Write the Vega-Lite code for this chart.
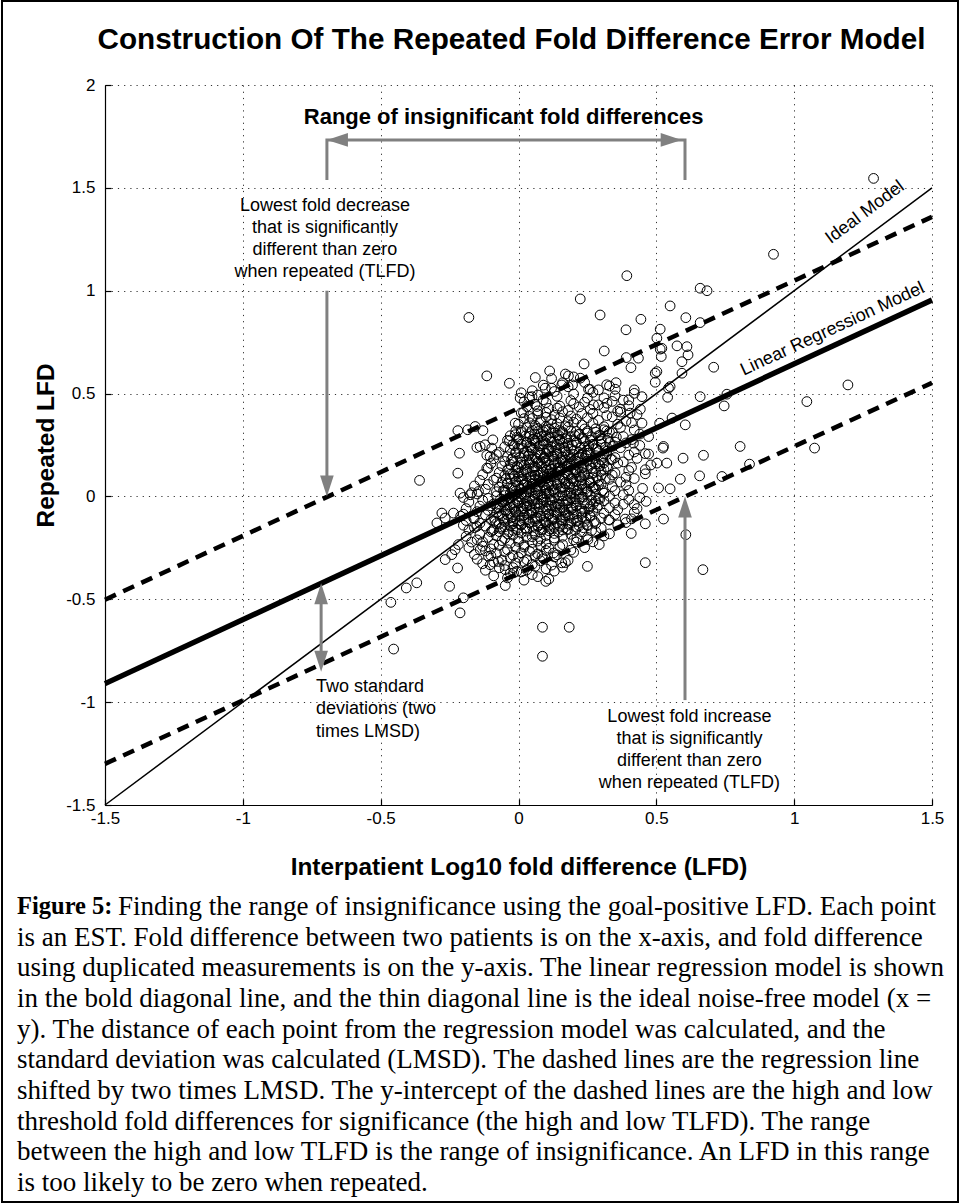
{
  "$schema": "https://vega.github.io/schema/vega-lite/v6.json",
  "background": "white",
  "autosize": {"type": "none"},
  "width": 827,
  "height": 720,
  "padding": {"left": 105, "top": 85, "right": 28, "bottom": 399},
  "config": {
    "view": {"stroke": null},
    "font": "Liberation Sans",
    "axis": {
      "domainColor": "black", "domainWidth": 1.2,
      "tickColor": "black", "tickSize": -6, "tickWidth": 1.2,
      "labelColor": "black", "labelFont": "Liberation Sans", "labelFontSize": 17,
      "labelFlush": false, "labelOverlap": false,
      "titleColor": "black", "titleFont": "Liberation Sans", "titleFontSize": 24.4, "titleFontWeight": "bold",
      "grid": true, "gridColor": "black", "gridDash": [1.2, 5], "gridOpacity": 0.8, "gridWidth": 1
    }
  },
  "title": {"text": "Construction Of The Repeated Fold Difference Error Model", "font": "Liberation Sans", "fontSize": 29.7, "fontWeight": "bold", "color": "black", "anchor": "middle", "offset": 20, "dx": -7, "dy": 76.5},
  "datasets": {
    "pts": [
      {"x":1.288,"y":1.546},{"x":0.925,"y":1.177},{"x":0.393,"y":1.073},{"x":0.659,"y":1.012},{"x":0.684,"y":1.0},{"x":0.224,"y":0.96},{"x":0.55,"y":0.926},{"x":0.296,"y":0.882},{"x":0.444,"y":0.861},{"x":0.607,"y":0.869},{"x":-0.18,"y":0.87},{"x":0.39,"y":0.81},{"x":0.659,"y":0.845},{"x":0.514,"y":0.813},{"x":0.502,"y":0.769},{"x":0.52,"y":0.72},{"x":0.575,"y":0.732},{"x":0.611,"y":0.728},{"x":0.311,"y":0.707},{"x":0.391,"y":0.675},{"x":0.435,"y":0.672},{"x":0.514,"y":0.716},{"x":0.518,"y":0.68},{"x":0.615,"y":0.688},{"x":0.593,"y":0.655},{"x":0.708,"y":0.628},{"x":0.238,"y":0.644},{"x":0.408,"y":0.626},{"x":0.502,"y":0.607},{"x":0.496,"y":0.599},{"x":0.593,"y":0.599},{"x":0.181,"y":0.586},{"x":0.224,"y":0.575},{"x":-0.115,"y":0.586},{"x":0.354,"y":0.553},{"x":0.496,"y":0.555},{"x":0.55,"y":0.534},{"x":0.196,"y":0.542},{"x":-0.033,"y":0.55},{"x":0.061,"y":0.578},{"x":0.113,"y":0.61},{"x":0.29,"y":0.518},{"x":0.254,"y":0.521},{"x":0.351,"y":0.521},{"x":0.42,"y":0.518},{"x":0.544,"y":0.526},{"x":1.195,"y":0.542},{"x":0.541,"y":0.482},{"x":0.659,"y":0.485},{"x":0.756,"y":0.497},{"x":0.448,"y":0.485},{"x":0.4,"y":0.469},{"x":0.321,"y":0.453},{"x":0.272,"y":0.445},{"x":1.046,"y":0.461},{"x":0.746,"y":0.44},{"x":0.369,"y":0.424},{"x":0.442,"y":0.424},{"x":0.405,"y":0.405},{"x":0.557,"y":0.381},{"x":0.605,"y":0.348},{"x":0.448,"y":0.356},{"x":0.512,"y":0.356},{"x":0.804,"y":0.243},{"x":0.526,"y":0.243},{"x":0.417,"y":0.259},{"x":0.472,"y":0.291},{"x":0.524,"y":0.235},{"x":1.074,"y":0.235},{"x":0.671,"y":0.2},{"x":0.597,"y":0.186},{"x":0.838,"y":0.157},{"x":0.472,"y":0.206},{"x":0.502,"y":0.162},{"x":0.538,"y":0.162},{"x":0.46,"y":0.13},{"x":0.738,"y":0.097},{"x":0.657,"y":0.1},{"x":0.587,"y":0.084},{"x":0.55,"y":0.037},{"x":0.508,"y":0.041},{"x":0.463,"y":-0.024},{"x":0.42,"y":-0.04},{"x":0.526,"y":-0.11},{"x":0.46,"y":-0.133},{"x":0.409,"y":-0.18},{"x":0.387,"y":-0.11},{"x":0.607,"y":-0.186},{"x":0.669,"y":-0.356},{"x":0.46,"y":-0.322},{"x":0.25,"y":-0.34},{"x":0.157,"y":-0.323},{"x":0.293,"y":-0.234},{"x":0.252,"y":-0.21},{"x":0.327,"y":-0.113},{"x":0.212,"y":-0.202},{"x":0.087,"y":-0.636},{"x":0.184,"y":-0.636},{"x":0.087,"y":-0.777},{"x":0.099,"y":-0.413},{"x":-0.048,"y":-0.433},{"x":-0.018,"y":-0.372},{"x":0.085,"y":-0.291},{"x":0.127,"y":-0.275},{"x":-0.22,"y":0.32},{"x":-0.184,"y":0.324},{"x":-0.157,"y":0.34},{"x":-0.129,"y":0.32},{"x":-0.214,"y":0.21},{"x":-0.151,"y":0.238},{"x":-0.121,"y":0.251},{"x":-0.093,"y":0.275},{"x":-0.097,"y":0.235},{"x":-0.115,"y":0.2},{"x":-0.033,"y":0.27},{"x":-0.012,"y":0.356},{"x":0.018,"y":0.408},{"x":0.067,"y":0.437},{"x":-0.012,"y":0.3},{"x":0.006,"y":0.478},{"x":0.049,"y":0.485},{"x":0.097,"y":0.526},{"x":0.157,"y":0.542},{"x":-0.359,"y":0.078},{"x":-0.22,"y":0.113},{"x":-0.212,"y":0.016},{"x":-0.175,"y":0.008},{"x":-0.145,"y":0.024},{"x":-0.139,"y":0.243},{"x":-0.103,"y":0.194},{"x":-0.115,"y":0.138},{"x":-0.278,"y":-0.081},{"x":-0.266,"y":-0.105},{"x":-0.236,"y":-0.081},{"x":-0.296,"y":-0.129},{"x":-0.163,"y":-0.105},{"x":-0.151,"y":-0.146},{"x":-0.218,"y":-0.234},{"x":-0.23,"y":-0.259},{"x":-0.242,"y":-0.283},{"x":-0.266,"y":-0.307},{"x":-0.221,"y":-0.348},{"x":-0.25,"y":-0.437},{"x":-0.369,"y":-0.42},{"x":-0.407,"y":-0.445},{"x":-0.463,"y":-0.515},{"x":-0.212,"y":-0.566},{"x":-0.2,"y":-0.493},{"x":-0.453,"y":-0.742},{"x":-0.139,"y":-0.259},{"x":-0.109,"y":-0.291},{"x":-0.103,"y":-0.332},{"x":-0.073,"y":-0.316},{"x":-0.048,"y":-0.356},{"x":-0.006,"y":-0.364},
      {"x":-0.04,"y":-0.396},{"x":0.02,"y":-0.407},{"x":0.07,"y":-0.39},{"x":0.11,"y":-0.402},
      {"x":-0.09,"y":-0.386},{"x":-0.03,"y":-0.374},{"x":0.01,"y":-0.367},{"x":0.05,"y":-0.38},{"x":0.13,"y":-0.363},
      {"x":-0.12,"y":-0.359},{"x":-0.07,"y":-0.347},{"x":-0.02,"y":-0.346},{"x":0.03,"y":-0.357},{"x":0.06,"y":-0.34},{"x":0.1,"y":-0.352},{"x":0.16,"y":-0.344},
      {"x":-0.13,"y":-0.327},{"x":-0.09,"y":-0.319},{"x":-0.05,"y":-0.336},{"x":-0.01,"y":-0.324},{"x":0.02,"y":-0.317},{"x":0.05,"y":-0.33},{"x":0.08,"y":-0.313},{"x":0.12,"y":-0.334},{"x":0.17,"y":-0.322},
      {"x":-0.15,"y":-0.305},{"x":-0.1,"y":-0.288},{"x":-0.06,"y":-0.309},{"x":-0.03,"y":-0.297},{"x":0,"y":-0.296},{"x":0.03,"y":-0.307},{"x":0.06,"y":-0.29},{"x":0.09,"y":-0.302},{"x":0.13,"y":-0.294},{"x":0.18,"y":-0.311},
      {"x":-0.16,"y":-0.282},{"x":-0.12,"y":-0.265},{"x":-0.08,"y":-0.277},{"x":-0.05,"y":-0.269},{"x":-0.02,"y":-0.286},{"x":0.01,"y":-0.274},{"x":0.04,"y":-0.267},{"x":0.07,"y":-0.28},{"x":0.1,"y":-0.263},{"x":0.14,"y":-0.284},{"x":0.2,"y":-0.272},
      {"x":-0.18,"y":-0.249},{"x":-0.13,"y":-0.242},{"x":-0.1,"y":-0.255},{"x":-0.07,"y":-0.238},{"x":-0.04,"y":-0.259},{"x":-0.01,"y":-0.247},{"x":0.02,"y":-0.246},{"x":0.05,"y":-0.257},{"x":0.08,"y":-0.24},{"x":0.11,"y":-0.252},{"x":0.15,"y":-0.244},{"x":0.19,"y":-0.261},{"x":0.24,"y":-0.249},
      {"x":-0.17,"y":-0.222},{"x":-0.13,"y":-0.221},{"x":-0.09,"y":-0.232},{"x":-0.06,"y":-0.215},{"x":-0.03,"y":-0.227},{"x":0,"y":-0.219},{"x":0.02,"y":-0.236},{"x":0.05,"y":-0.224},{"x":0.07,"y":-0.217},{"x":0.1,"y":-0.23},{"x":0.13,"y":-0.213},{"x":0.16,"y":-0.234},{"x":0.21,"y":-0.222},{"x":0.27,"y":-0.221},
      {"x":-0.19,"y":-0.194},{"x":-0.15,"y":-0.211},{"x":-0.11,"y":-0.199},{"x":-0.08,"y":-0.192},{"x":-0.05,"y":-0.205},{"x":-0.02,"y":-0.188},{"x":0,"y":-0.209},{"x":0.03,"y":-0.197},{"x":0.05,"y":-0.196},{"x":0.08,"y":-0.207},{"x":0.1,"y":-0.19},{"x":0.13,"y":-0.202},{"x":0.16,"y":-0.194},{"x":0.2,"y":-0.211},{"x":0.25,"y":-0.199},{"x":0.31,"y":-0.192},
      {"x":-0.18,"y":-0.163},{"x":-0.14,"y":-0.184},{"x":-0.1,"y":-0.172},{"x":-0.07,"y":-0.171},{"x":-0.04,"y":-0.182},{"x":-0.02,"y":-0.165},{"x":0.01,"y":-0.177},{"x":0.03,"y":-0.169},{"x":0.06,"y":-0.186},{"x":0.08,"y":-0.174},{"x":0.11,"y":-0.167},{"x":0.13,"y":-0.18},{"x":0.16,"y":-0.163},{"x":0.19,"y":-0.184},{"x":0.23,"y":-0.172},{"x":0.28,"y":-0.171},{"x":0.33,"y":-0.182},
      {"x":-0.2,"y":-0.14},{"x":-0.16,"y":-0.152},{"x":-0.12,"y":-0.144},{"x":-0.09,"y":-0.161},{"x":-0.06,"y":-0.149},{"x":-0.03,"y":-0.142},{"x":-0.01,"y":-0.155},{"x":0.01,"y":-0.138},{"x":0.03,"y":-0.159},{"x":0.05,"y":-0.147},{"x":0.07,"y":-0.146},{"x":0.09,"y":-0.157},{"x":0.11,"y":-0.14},{"x":0.13,"y":-0.152},{"x":0.15,"y":-0.144},{"x":0.18,"y":-0.161},{"x":0.21,"y":-0.149},{"x":0.25,"y":-0.142},{"x":0.3,"y":-0.155},{"x":0.36,"y":-0.138},
      {"x":-0.19,"y":-0.117},{"x":-0.14,"y":-0.13},{"x":-0.1,"y":-0.113},{"x":-0.07,"y":-0.134},{"x":-0.05,"y":-0.122},{"x":-0.02,"y":-0.121},{"x":0,"y":-0.132},{"x":0.02,"y":-0.115},{"x":0.04,"y":-0.127},{"x":0.06,"y":-0.119},{"x":0.08,"y":-0.136},{"x":0.1,"y":-0.124},{"x":0.12,"y":-0.117},{"x":0.14,"y":-0.13},{"x":0.16,"y":-0.113},{"x":0.18,"y":-0.134},{"x":0.21,"y":-0.122},{"x":0.24,"y":-0.121},{"x":0.28,"y":-0.132},{"x":0.33,"y":-0.115},{"x":0.39,"y":-0.127},
      {"x":-0.21,"y":-0.096},{"x":-0.16,"y":-0.107},{"x":-0.12,"y":-0.09},{"x":-0.09,"y":-0.102},{"x":-0.06,"y":-0.094},{"x":-0.04,"y":-0.111},{"x":-0.02,"y":-0.099},{"x":0,"y":-0.092},{"x":0.02,"y":-0.105},{"x":0.04,"y":-0.088},{"x":0.06,"y":-0.109},{"x":0.08,"y":-0.097},{"x":0.1,"y":-0.096},{"x":0.12,"y":-0.107},{"x":0.14,"y":-0.09},{"x":0.16,"y":-0.102},{"x":0.18,"y":-0.094},{"x":0.2,"y":-0.111},{"x":0.23,"y":-0.099},{"x":0.26,"y":-0.092},{"x":0.3,"y":-0.105},{"x":0.35,"y":-0.088},{"x":0.41,"y":-0.109},
      {"x":-0.2,"y":-0.086},{"x":-0.15,"y":-0.074},{"x":-0.11,"y":-0.067},{"x":-0.08,"y":-0.08},{"x":-0.05,"y":-0.063},{"x":-0.03,"y":-0.084},{"x":-0.01,"y":-0.072},{"x":0.01,"y":-0.071},{"x":0.03,"y":-0.082},{"x":0.05,"y":-0.065},{"x":0.07,"y":-0.077},{"x":0.09,"y":-0.069},{"x":0.11,"y":-0.086},{"x":0.13,"y":-0.074},{"x":0.15,"y":-0.067},{"x":0.17,"y":-0.08},{"x":0.19,"y":-0.063},{"x":0.21,"y":-0.084},{"x":0.24,"y":-0.072},{"x":0.27,"y":-0.071},{"x":0.31,"y":-0.082},{"x":0.36,"y":-0.065},{"x":0.42,"y":-0.077},
      {"x":-0.19,"y":-0.059},{"x":-0.14,"y":-0.047},{"x":-0.1,"y":-0.046},{"x":-0.07,"y":-0.057},{"x":-0.05,"y":-0.04},{"x":-0.03,"y":-0.052},{"x":-0.01,"y":-0.044},{"x":0.01,"y":-0.061},{"x":0.03,"y":-0.049},{"x":0.04,"y":-0.042},{"x":0.06,"y":-0.055},{"x":0.08,"y":-0.038},{"x":0.1,"y":-0.059},{"x":0.11,"y":-0.047},{"x":0.13,"y":-0.046},{"x":0.15,"y":-0.057},{"x":0.17,"y":-0.04},{"x":0.19,"y":-0.052},{"x":0.21,"y":-0.044},{"x":0.23,"y":-0.061},{"x":0.26,"y":-0.049},{"x":0.29,"y":-0.042},{"x":0.33,"y":-0.055},{"x":0.38,"y":-0.038},{"x":0.43,"y":-0.059},
      {"x":-0.18,"y":-0.027},{"x":-0.13,"y":-0.019},{"x":-0.09,"y":-0.036},{"x":-0.06,"y":-0.024},{"x":-0.04,"y":-0.017},{"x":-0.02,"y":-0.03},{"x":0,"y":-0.013},{"x":0.02,"y":-0.034},{"x":0.03,"y":-0.022},{"x":0.05,"y":-0.021},{"x":0.07,"y":-0.032},{"x":0.09,"y":-0.015},{"x":0.1,"y":-0.027},{"x":0.12,"y":-0.019},{"x":0.14,"y":-0.036},{"x":0.16,"y":-0.024},{"x":0.18,"y":-0.017},{"x":0.2,"y":-0.03},{"x":0.22,"y":-0.013},{"x":0.25,"y":-0.034},{"x":0.28,"y":-0.022},{"x":0.31,"y":-0.021},{"x":0.35,"y":-0.032},{"x":0.4,"y":-0.015},
      {"x":-0.2,"y":-0.005},{"x":-0.15,"y":0.012},{"x":-0.11,"y":-0.009},{"x":-0.08,"y":0.003},{"x":-0.05,"y":0.004},{"x":-0.03,"y":-0.007},{"x":-0.01,"y":0.01},{"x":0.01,"y":-0.002},{"x":0.02,"y":0.006},{"x":0.04,"y":-0.011},{"x":0.06,"y":0.001},{"x":0.08,"y":0.008},{"x":0.09,"y":-0.005},{"x":0.11,"y":0.012},{"x":0.13,"y":-0.009},{"x":0.15,"y":0.003},{"x":0.17,"y":0.004},{"x":0.19,"y":-0.007},{"x":0.21,"y":0.01},{"x":0.23,"y":-0.002},{"x":0.26,"y":0.006},{"x":0.29,"y":-0.011},{"x":0.33,"y":0.001},{"x":0.38,"y":0.008},{"x":0.44,"y":-0.005},
      {"x":-0.17,"y":0.018},{"x":-0.12,"y":0.035},{"x":-0.08,"y":0.023},{"x":-0.05,"y":0.031},{"x":-0.03,"y":0.014},{"x":-0.01,"y":0.026},{"x":0.01,"y":0.033},{"x":0.03,"y":0.02},{"x":0.04,"y":0.037},{"x":0.06,"y":0.016},{"x":0.08,"y":0.028},{"x":0.1,"y":0.029},{"x":0.11,"y":0.018},{"x":0.13,"y":0.035},{"x":0.15,"y":0.023},{"x":0.17,"y":0.031},{"x":0.19,"y":0.014},{"x":0.21,"y":0.026},{"x":0.23,"y":0.033},{"x":0.25,"y":0.02},{"x":0.28,"y":0.037},{"x":0.31,"y":0.016},{"x":0.35,"y":0.028},{"x":0.4,"y":0.029},
      {"x":-0.16,"y":0.051},{"x":-0.11,"y":0.058},{"x":-0.07,"y":0.045},{"x":-0.04,"y":0.062},{"x":-0.02,"y":0.041},{"x":0,"y":0.053},{"x":0.02,"y":0.054},{"x":0.04,"y":0.043},{"x":0.05,"y":0.06},{"x":0.07,"y":0.048},{"x":0.09,"y":0.056},{"x":0.1,"y":0.039},{"x":0.12,"y":0.051},{"x":0.14,"y":0.058},{"x":0.16,"y":0.045},{"x":0.18,"y":0.062},{"x":0.2,"y":0.041},{"x":0.22,"y":0.053},{"x":0.24,"y":0.054},{"x":0.27,"y":0.043},{"x":0.3,"y":0.06},{"x":0.34,"y":0.048},{"x":0.39,"y":0.056},{"x":0.45,"y":0.039},
      {"x":-0.14,"y":0.078},{"x":-0.09,"y":0.079},{"x":-0.06,"y":0.068},{"x":-0.03,"y":0.085},{"x":-0.01,"y":0.073},{"x":0.01,"y":0.081},{"x":0.03,"y":0.064},{"x":0.05,"y":0.076},{"x":0.06,"y":0.083},{"x":0.08,"y":0.07},{"x":0.1,"y":0.087},{"x":0.11,"y":0.066},{"x":0.13,"y":0.078},{"x":0.15,"y":0.079},{"x":0.17,"y":0.068},{"x":0.19,"y":0.085},{"x":0.21,"y":0.073},{"x":0.23,"y":0.081},{"x":0.26,"y":0.064},{"x":0.29,"y":0.076},{"x":0.33,"y":0.083},{"x":0.37,"y":0.07},{"x":0.42,"y":0.087},
      {"x":-0.13,"y":0.106},{"x":-0.08,"y":0.089},{"x":-0.05,"y":0.101},{"x":-0.02,"y":0.108},{"x":0,"y":0.095},{"x":0.02,"y":0.112},{"x":0.04,"y":0.091},{"x":0.06,"y":0.103},{"x":0.07,"y":0.104},{"x":0.09,"y":0.093},{"x":0.11,"y":0.11},{"x":0.12,"y":0.098},{"x":0.14,"y":0.106},{"x":0.16,"y":0.089},{"x":0.18,"y":0.101},{"x":0.2,"y":0.108},{"x":0.22,"y":0.095},{"x":0.24,"y":0.112},{"x":0.27,"y":0.091},{"x":0.3,"y":0.103},{"x":0.34,"y":0.104},{"x":0.39,"y":0.093},{"x":0.46,"y":0.11},
      {"x":-0.11,"y":0.137},{"x":-0.07,"y":0.116},{"x":-0.04,"y":0.128},{"x":-0.01,"y":0.129},{"x":0.01,"y":0.118},{"x":0.03,"y":0.135},{"x":0.05,"y":0.123},{"x":0.07,"y":0.131},{"x":0.08,"y":0.114},{"x":0.1,"y":0.126},{"x":0.12,"y":0.133},{"x":0.14,"y":0.12},{"x":0.15,"y":0.137},{"x":0.17,"y":0.116},{"x":0.19,"y":0.128},{"x":0.21,"y":0.129},{"x":0.23,"y":0.118},{"x":0.25,"y":0.135},{"x":0.28,"y":0.123},{"x":0.31,"y":0.131},{"x":0.35,"y":0.114},{"x":0.4,"y":0.126},
      {"x":-0.1,"y":0.16},{"x":-0.06,"y":0.148},{"x":-0.03,"y":0.156},{"x":0,"y":0.139},{"x":0.02,"y":0.151},{"x":0.04,"y":0.158},{"x":0.06,"y":0.145},{"x":0.08,"y":0.162},{"x":0.1,"y":0.141},{"x":0.11,"y":0.153},{"x":0.13,"y":0.154},{"x":0.15,"y":0.143},{"x":0.17,"y":0.16},{"x":0.19,"y":0.148},{"x":0.21,"y":0.156},{"x":0.23,"y":0.139},{"x":0.26,"y":0.151},{"x":0.29,"y":0.158},{"x":0.32,"y":0.145},{"x":0.36,"y":0.162},{"x":0.41,"y":0.141},{"x":0.48,"y":0.153},
      {"x":-0.09,"y":0.183},{"x":-0.05,"y":0.17},{"x":-0.02,"y":0.187},{"x":0.01,"y":0.166},{"x":0.03,"y":0.178},{"x":0.05,"y":0.179},{"x":0.07,"y":0.168},{"x":0.09,"y":0.185},{"x":0.11,"y":0.173},{"x":0.13,"y":0.181},{"x":0.15,"y":0.164},{"x":0.17,"y":0.176},{"x":0.19,"y":0.183},{"x":0.21,"y":0.17},{"x":0.24,"y":0.187},{"x":0.27,"y":0.166},{"x":0.3,"y":0.178},{"x":0.34,"y":0.179},{"x":0.38,"y":0.168},{"x":0.43,"y":0.185},
      {"x":-0.08,"y":0.204},{"x":-0.04,"y":0.193},{"x":-0.01,"y":0.21},{"x":0.02,"y":0.198},{"x":0.04,"y":0.206},{"x":0.06,"y":0.189},{"x":0.08,"y":0.201},{"x":0.1,"y":0.208},{"x":0.12,"y":0.195},{"x":0.14,"y":0.212},{"x":0.16,"y":0.191},{"x":0.18,"y":0.203},{"x":0.2,"y":0.204},{"x":0.22,"y":0.193},{"x":0.25,"y":0.21},{"x":0.28,"y":0.198},{"x":0.31,"y":0.206},{"x":0.35,"y":0.189},{"x":0.4,"y":0.201},{"x":0.46,"y":0.208},
      {"x":-0.07,"y":0.214},{"x":-0.03,"y":0.226},{"x":0,"y":0.233},{"x":0.03,"y":0.22},{"x":0.05,"y":0.237},{"x":0.07,"y":0.216},{"x":0.09,"y":0.228},{"x":0.11,"y":0.229},{"x":0.13,"y":0.218},{"x":0.15,"y":0.235},{"x":0.17,"y":0.223},{"x":0.19,"y":0.231},{"x":0.22,"y":0.214},{"x":0.25,"y":0.226},{"x":0.28,"y":0.233},{"x":0.32,"y":0.22},{"x":0.37,"y":0.237},{"x":0.42,"y":0.216},
      {"x":-0.05,"y":0.241},{"x":-0.02,"y":0.253},{"x":0.01,"y":0.254},{"x":0.04,"y":0.243},{"x":0.06,"y":0.26},{"x":0.08,"y":0.248},{"x":0.1,"y":0.256},{"x":0.12,"y":0.239},{"x":0.14,"y":0.251},{"x":0.16,"y":0.258},{"x":0.18,"y":0.245},{"x":0.21,"y":0.262},{"x":0.24,"y":0.241},{"x":0.27,"y":0.253},{"x":0.3,"y":0.254},{"x":0.34,"y":0.243},{"x":0.39,"y":0.26},{"x":0.44,"y":0.248},
      {"x":-0.04,"y":0.273},{"x":0,"y":0.281},{"x":0.03,"y":0.264},{"x":0.05,"y":0.276},{"x":0.07,"y":0.283},{"x":0.09,"y":0.27},{"x":0.11,"y":0.287},{"x":0.13,"y":0.266},{"x":0.15,"y":0.278},{"x":0.17,"y":0.279},{"x":0.2,"y":0.268},{"x":0.23,"y":0.285},{"x":0.26,"y":0.273},{"x":0.3,"y":0.281},{"x":0.35,"y":0.264},{"x":0.41,"y":0.276},
      {"x":-0.03,"y":0.295},{"x":0.01,"y":0.312},{"x":0.04,"y":0.291},{"x":0.06,"y":0.303},{"x":0.08,"y":0.304},{"x":0.1,"y":0.293},{"x":0.12,"y":0.31},{"x":0.14,"y":0.298},{"x":0.16,"y":0.306},{"x":0.19,"y":0.289},{"x":0.22,"y":0.301},{"x":0.25,"y":0.308},{"x":0.29,"y":0.295},{"x":0.33,"y":0.312},{"x":0.38,"y":0.291},{"x":0.44,"y":0.303},
      {"x":-0.01,"y":0.318},{"x":0.03,"y":0.335},{"x":0.05,"y":0.323},{"x":0.07,"y":0.331},{"x":0.09,"y":0.314},{"x":0.11,"y":0.326},{"x":0.13,"y":0.333},{"x":0.15,"y":0.32},{"x":0.18,"y":0.337},{"x":0.21,"y":0.316},{"x":0.24,"y":0.328},{"x":0.28,"y":0.329},{"x":0.32,"y":0.318},{"x":0.37,"y":0.335},{"x":0.42,"y":0.323},
      {"x":0,"y":0.351},{"x":0.04,"y":0.358},{"x":0.06,"y":0.345},{"x":0.08,"y":0.362},{"x":0.1,"y":0.341},{"x":0.12,"y":0.353},{"x":0.14,"y":0.354},{"x":0.17,"y":0.343},{"x":0.2,"y":0.36},{"x":0.23,"y":0.348},{"x":0.27,"y":0.356},{"x":0.31,"y":0.339},{"x":0.36,"y":0.351},{"x":0.41,"y":0.358},
      {"x":0.02,"y":0.378},{"x":0.05,"y":0.379},{"x":0.08,"y":0.368},{"x":0.1,"y":0.385},{"x":0.12,"y":0.373},{"x":0.15,"y":0.381},{"x":0.18,"y":0.364},{"x":0.21,"y":0.376},{"x":0.25,"y":0.383},{"x":0.29,"y":0.37},{"x":0.34,"y":0.387},{"x":0.39,"y":0.366},
      {"x":0.01,"y":0.406},{"x":0.04,"y":0.389},{"x":0.07,"y":0.401},{"x":0.1,"y":0.408},{"x":0.13,"y":0.395},{"x":0.16,"y":0.412},{"x":0.19,"y":0.391},{"x":0.23,"y":0.403},{"x":0.27,"y":0.404},{"x":0.32,"y":0.393},{"x":0.37,"y":0.41},{"x":0.43,"y":0.398},
      {"x":0.03,"y":0.437},{"x":0.07,"y":0.416},{"x":0.11,"y":0.428},{"x":0.14,"y":0.429},{"x":0.18,"y":0.418},{"x":0.22,"y":0.435},{"x":0.26,"y":0.423},{"x":0.31,"y":0.431},{"x":0.36,"y":0.414},
      {"x":0.02,"y":0.46},{"x":0.06,"y":0.448},{"x":0.1,"y":0.456},{"x":0.15,"y":0.439},{"x":0.2,"y":0.451},{"x":0.24,"y":0.458},{"x":0.29,"y":0.445},{"x":0.34,"y":0.462},{"x":0.4,"y":0.441},
      {"x":0.04,"y":0.483},{"x":0.09,"y":0.47},{"x":0.14,"y":0.487},{"x":0.19,"y":0.466},{"x":0.25,"y":0.478},{"x":0.31,"y":0.479},{"x":0.38,"y":0.468},
      {"x":0.01,"y":0.504},{"x":0.07,"y":0.493},{"x":0.13,"y":0.51},{"x":0.2,"y":0.498},{"x":0.27,"y":0.506},{"x":0.35,"y":0.489},{"x":0.42,"y":0.501},
      {"x":0.05,"y":0.514},{"x":0.12,"y":0.526},{"x":0.18,"y":0.533},{"x":0.26,"y":0.52},{"x":0.33,"y":0.537},
      {"x":0.09,"y":0.541},{"x":0.16,"y":0.553},{"x":0.24,"y":0.554},{"x":0.32,"y":0.543},
      {"x":0.12,"y":0.573},{"x":0.2,"y":0.581},{"x":0.17,"y":0.595},
      {"x":-0.095,"y":-0.166},{"x":-0.065,"y":-0.156},{"x":-0.035,"y":-0.171},{"x":-0.005,"y":-0.161},{"x":0.025,"y":-0.154},{"x":0.055,"y":-0.168},{"x":0.085,"y":-0.163},{"x":0.115,"y":-0.157},{"x":0.145,"y":-0.173},{"x":0.175,"y":-0.159},{"x":0.205,"y":-0.164},{"x":0.235,"y":-0.152},{"x":0.265,"y":-0.166},
      {"x":-0.08,"y":-0.132},{"x":-0.05,"y":-0.148},{"x":-0.02,"y":-0.134},{"x":0.01,"y":-0.139},{"x":0.04,"y":-0.127},{"x":0.07,"y":-0.141},{"x":0.1,"y":-0.131},{"x":0.13,"y":-0.146},{"x":0.16,"y":-0.136},{"x":0.19,"y":-0.129},{"x":0.22,"y":-0.143},{"x":0.25,"y":-0.138},
      {"x":-0.085,"y":-0.121},{"x":-0.055,"y":-0.111},{"x":-0.025,"y":-0.104},{"x":0.005,"y":-0.118},{"x":0.035,"y":-0.113},{"x":0.065,"y":-0.107},{"x":0.095,"y":-0.123},{"x":0.125,"y":-0.109},{"x":0.155,"y":-0.114},{"x":0.185,"y":-0.102},{"x":0.215,"y":-0.116},{"x":0.245,"y":-0.106},{"x":0.275,"y":-0.121},
      {"x":-0.07,"y":-0.084},{"x":-0.04,"y":-0.089},{"x":-0.01,"y":-0.077},{"x":0.02,"y":-0.091},{"x":0.05,"y":-0.081},{"x":0.08,"y":-0.096},{"x":0.11,"y":-0.086},{"x":0.14,"y":-0.079},{"x":0.17,"y":-0.093},{"x":0.2,"y":-0.088},{"x":0.23,"y":-0.082},{"x":0.26,"y":-0.098},
      {"x":-0.075,"y":-0.054},{"x":-0.045,"y":-0.068},{"x":-0.015,"y":-0.063},{"x":0.015,"y":-0.057},{"x":0.045,"y":-0.073},{"x":0.075,"y":-0.059},{"x":0.105,"y":-0.064},{"x":0.135,"y":-0.052},{"x":0.165,"y":-0.066},{"x":0.195,"y":-0.056},{"x":0.225,"y":-0.071},{"x":0.255,"y":-0.061},{"x":0.285,"y":-0.054},
      {"x":-0.06,"y":-0.027},{"x":-0.03,"y":-0.041},{"x":0.0,"y":-0.031},{"x":0.03,"y":-0.046},{"x":0.06,"y":-0.036},{"x":0.09,"y":-0.029},{"x":0.12,"y":-0.043},{"x":0.15,"y":-0.038},{"x":0.18,"y":-0.032},{"x":0.21,"y":-0.048},{"x":0.24,"y":-0.034},{"x":0.27,"y":-0.039},
      {"x":-0.065,"y":-0.013},{"x":-0.035,"y":-0.007},{"x":-0.005,"y":-0.023},{"x":0.025,"y":-0.009},{"x":0.055,"y":-0.014},{"x":0.085,"y":-0.002},{"x":0.115,"y":-0.016},{"x":0.145,"y":-0.006},{"x":0.175,"y":-0.021},{"x":0.205,"y":-0.011},{"x":0.235,"y":-0.004},{"x":0.265,"y":-0.018},{"x":0.295,"y":-0.013},
      {"x":-0.05,"y":0.02},{"x":-0.02,"y":0.005},{"x":0.01,"y":0.015},{"x":0.04,"y":0.022},{"x":0.07,"y":0.008},{"x":0.1,"y":0.013},{"x":0.13,"y":0.019},{"x":0.16,"y":0.003},{"x":0.19,"y":0.017},{"x":0.22,"y":0.012},{"x":0.25,"y":0.024},{"x":0.28,"y":0.01},
      {"x":-0.055,"y":0.028},{"x":-0.025,"y":0.042},{"x":0.005,"y":0.037},{"x":0.035,"y":0.049},{"x":0.065,"y":0.035},{"x":0.095,"y":0.045},{"x":0.125,"y":0.03},{"x":0.155,"y":0.04},{"x":0.185,"y":0.047},{"x":0.215,"y":0.033},{"x":0.245,"y":0.038},{"x":0.275,"y":0.044},{"x":0.305,"y":0.028},
      {"x":-0.04,"y":0.065},{"x":-0.01,"y":0.072},{"x":0.02,"y":0.058},{"x":0.05,"y":0.063},{"x":0.08,"y":0.069},{"x":0.11,"y":0.053},{"x":0.14,"y":0.067},{"x":0.17,"y":0.062},{"x":0.2,"y":0.074},{"x":0.23,"y":0.06},{"x":0.26,"y":0.07},{"x":0.29,"y":0.055},
      {"x":-0.045,"y":0.087},{"x":-0.015,"y":0.099},{"x":0.015,"y":0.085},{"x":0.045,"y":0.095},{"x":0.075,"y":0.08},{"x":0.105,"y":0.09},{"x":0.135,"y":0.097},{"x":0.165,"y":0.083},{"x":0.195,"y":0.088},{"x":0.225,"y":0.094},{"x":0.255,"y":0.078},{"x":0.285,"y":0.092},{"x":0.315,"y":0.087},
      {"x":-0.03,"y":0.108},{"x":0.0,"y":0.113},{"x":0.03,"y":0.119},{"x":0.06,"y":0.103},{"x":0.09,"y":0.117},{"x":0.12,"y":0.112},{"x":0.15,"y":0.124},{"x":0.18,"y":0.11},{"x":0.21,"y":0.12},{"x":0.24,"y":0.105},{"x":0.27,"y":0.115},{"x":0.3,"y":0.122},
      {"x":-0.035,"y":0.135},{"x":-0.005,"y":0.145},{"x":0.025,"y":0.13},{"x":0.055,"y":0.14},{"x":0.085,"y":0.147},{"x":0.115,"y":0.133},{"x":0.145,"y":0.138},{"x":0.175,"y":0.144},{"x":0.205,"y":0.128},{"x":0.235,"y":0.142},{"x":0.265,"y":0.137},{"x":0.295,"y":0.149},{"x":0.325,"y":0.135},
      {"x":-0.02,"y":0.169},{"x":0.01,"y":0.153},{"x":0.04,"y":0.167},{"x":0.07,"y":0.162},{"x":0.1,"y":0.174},{"x":0.13,"y":0.16},{"x":0.16,"y":0.17},{"x":0.19,"y":0.155},{"x":0.22,"y":0.165},{"x":0.25,"y":0.172},{"x":0.28,"y":0.158},{"x":0.31,"y":0.163},
      {"x":-0.025,"y":0.18},{"x":0.005,"y":0.19},{"x":0.035,"y":0.197},{"x":0.065,"y":0.183},{"x":0.095,"y":0.188},{"x":0.125,"y":0.194},{"x":0.155,"y":0.178},{"x":0.185,"y":0.192},{"x":0.215,"y":0.187},{"x":0.245,"y":0.199},{"x":0.275,"y":0.185},{"x":0.305,"y":0.195},{"x":0.335,"y":0.18},
      {"x":-0.01,"y":0.217},{"x":0.02,"y":0.212},{"x":0.05,"y":0.224},{"x":0.08,"y":0.21},{"x":0.11,"y":0.22},{"x":0.14,"y":0.205},{"x":0.17,"y":0.215},{"x":0.2,"y":0.222},{"x":0.23,"y":0.208},{"x":0.26,"y":0.213},{"x":0.29,"y":0.219},{"x":0.32,"y":0.203},
      {"x":-0.015,"y":0.247},{"x":0.015,"y":0.233},{"x":0.045,"y":0.238},{"x":0.075,"y":0.244},{"x":0.105,"y":0.228},{"x":0.135,"y":0.242},{"x":0.165,"y":0.237},{"x":0.195,"y":0.249},{"x":0.225,"y":0.235},{"x":0.255,"y":0.245},{"x":0.285,"y":0.23},{"x":0.315,"y":0.24},{"x":0.345,"y":0.247},
      {"x":0.0,"y":0.274},{"x":0.03,"y":0.26},{"x":0.06,"y":0.27},{"x":0.09,"y":0.255},{"x":0.12,"y":0.265},{"x":0.15,"y":0.272},{"x":0.18,"y":0.258},{"x":0.21,"y":0.263},{"x":0.24,"y":0.269},{"x":0.27,"y":0.253},{"x":0.3,"y":0.267},{"x":0.33,"y":0.262},
      {"x":-0.005,"y":0.288},{"x":0.025,"y":0.294},{"x":0.055,"y":0.278},{"x":0.085,"y":0.292},{"x":0.115,"y":0.287},{"x":0.145,"y":0.299},{"x":0.175,"y":0.285},{"x":0.205,"y":0.295},{"x":0.235,"y":0.28},{"x":0.265,"y":0.29},{"x":0.295,"y":0.297},{"x":0.325,"y":0.283},{"x":0.355,"y":0.288},
      {"x":0.01,"y":0.32},{"x":0.04,"y":0.305},{"x":0.07,"y":0.315},{"x":0.1,"y":0.322},{"x":0.13,"y":0.308},{"x":0.16,"y":0.313},{"x":0.19,"y":0.319},{"x":0.22,"y":0.303},{"x":0.25,"y":0.317},{"x":0.28,"y":0.312},{"x":0.31,"y":0.324},{"x":0.34,"y":0.31}
    ],
    "lines": [
      {"m":"ideal","x":-1.5,"y":-1.5},{"m":"ideal","x":1.5,"y":1.5},
      {"m":"reg","x":-1.5,"y":-0.91},{"m":"reg","x":1.5,"y":0.955},
      {"m":"up","x":-1.5,"y":-0.502},{"m":"up","x":1.5,"y":1.359},
      {"m":"lo","x":-1.5,"y":-1.3},{"m":"lo","x":1.5,"y":0.552}
    ],
    "gray": [
      {"s":"br","o":0,"x":-0.695,"y":1.538},{"s":"br","o":1,"x":-0.695,"y":1.733},{"s":"br","o":2,"x":0.604,"y":1.733},{"s":"br","o":3,"x":0.604,"y":1.538},
      {"s":"ld","o":0,"x":-0.695,"y":1.0},{"s":"ld","o":1,"x":-0.695,"y":0.05},
      {"s":"ru","o":0,"x":0.604,"y":-0.99},{"s":"ru","o":1,"x":0.604,"y":-0.05},
      {"s":"db","o":0,"x":-0.716,"y":-0.47},{"s":"db","o":1,"x":-0.716,"y":-0.8}
    ],
    "heads": [
      {"d":"l","x":-0.695,"y":1.733},{"d":"r","x":0.592,"y":1.733},
      {"d":"d","x":-0.695,"y":0.0},{"d":"u","x":0.604,"y":0.0},
      {"d":"u","x":-0.716,"y":-0.422},{"d":"d","x":-0.716,"y":-0.852}
    ],
    "notes": [
      {"k":"c","t":"Lowest fold decrease","x":-0.702,"y":1.412},
      {"k":"c","t":"that is significantly","x":-0.702,"y":1.303},
      {"k":"c","t":"different than zero","x":-0.702,"y":1.198},
      {"k":"c","t":"when repeated (TLFD)","x":-0.702,"y":1.092},
      {"k":"c","t":"Lowest fold increase","x":0.62,"y":-1.071},
      {"k":"c","t":"that is significantly","x":0.62,"y":-1.179},
      {"k":"c","t":"different than zero","x":0.62,"y":-1.286},
      {"k":"c","t":"when repeated (TLFD)","x":0.62,"y":-1.392},
      {"k":"l","t":"Two standard","x":-0.735,"y":-0.925},
      {"k":"l","t":"deviations (two","x":-0.735,"y":-1.034},
      {"k":"l","t":"times LMSD)","x":-0.735,"y":-1.143},
      {"k":"b","t":"Range of insignificant fold differences","x":-0.054,"y":1.843},
      {"k":"i","t":"Ideal Model","x":1.257,"y":1.38},
      {"k":"g","t":"Linear Regression Model","x":1.139,"y":0.813}
    ],
    "cap": [
      {"l":0,"p":"b","t":"Figure 5:"},
      {"l":0,"p":"a","t":"Finding the range of insignificance using the goal-positive LFD. Each point"},
      {"l":1,"p":"r","t":"is an EST. Fold difference between two patients is on the x-axis, and fold difference"},
      {"l":2,"p":"r","t":"using duplicated measurements is on the y-axis. The linear regression model is shown"},
      {"l":3,"p":"r","t":"in the bold diagonal line, and the thin diagonal line is the ideal noise-free model (x ="},
      {"l":4,"p":"r","t":"y). The distance of each point from the regression model was calculated, and the"},
      {"l":5,"p":"r","t":"standard deviation was calculated (LMSD). The dashed lines are the regression line"},
      {"l":6,"p":"r","t":"shifted by two times LMSD. The y-intercept of the dashed lines are the high and low"},
      {"l":7,"p":"r","t":"threshold fold differences for significance (the high and low TLFD). The range"},
      {"l":8,"p":"r","t":"between the high and low TLFD is the range of insignificance. An LFD in this range"},
      {"l":9,"p":"r","t":"is too likely to be zero when repeated."}
    ]
  },
  "resolve": {"scale": {"x": "independent", "y": "independent"}},
  "layer": [
    {
      "encoding": {
        "x": {"field": "x", "type": "quantitative",
              "scale": {"domain": [-1.5, 1.5], "nice": false, "zero": false},
              "axis": {"values": [-1.5, -1, -0.5, 0, 0.5, 1, 1.5], "title": "Interpatient Log10 fold difference (LFD)", "labelPadding": 11, "titlePadding": 29, "grid": true, "labelExpr": "replace(format(datum.value, '~g'), '\u2212', '-')"}},
        "y": {"field": "y", "type": "quantitative",
              "scale": {"domain": [-1.5, 2], "nice": false, "zero": false},
              "axis": {"values": [-1.5, -1, -0.5, 0, 0.5, 1, 1.5, 2], "title": "Repeated LFD", "labelPadding": 16, "titlePadding": 7, "grid": true, "labelExpr": "replace(format(datum.value, '~g'), '\u2212', '-')"}}
      },
      "layer": [
        {
          "data": {"name": "pts"},
          "mark": {"type": "point", "shape": "circle", "filled": false, "color": "black", "strokeWidth": 1, "size": 95, "opacity": 1}
        },
        {
          "data": {"name": "lines"},
          "transform": [{"filter": "datum.m == 'ideal'"}],
          "mark": {"type": "line", "color": "black", "strokeWidth": 1.5}
        },
        {
          "data": {"name": "lines"},
          "transform": [{"filter": "datum.m == 'reg'"}],
          "mark": {"type": "line", "color": "black", "strokeWidth": 5.5}
        },
        {
          "data": {"name": "lines"},
          "transform": [{"filter": "datum.m == 'up' || datum.m == 'lo'"}],
          "mark": {"type": "line", "color": "black", "strokeWidth": 4.5, "strokeDash": [12, 8]},
          "encoding": {"detail": {"field": "m"}}
        },
        {
          "data": {"values": [{}]},
          "mark": {"type": "rule", "color": "black", "strokeWidth": 1.2},
          "encoding": {"x": {"datum": -1.5}, "x2": {"datum": 1.5}, "y": {"datum": 0}}
        },
        {
          "data": {"name": "gray"},
          "mark": {"type": "line", "color": "#808080", "strokeWidth": 3, "strokeJoin": "miter", "strokeCap": "butt"},
          "encoding": {"detail": {"field": "s"}, "order": {"field": "o", "type": "quantitative"}}
        },
        {
          "data": {"name": "heads"},
          "mark": {"type": "point", "filled": true, "color": "#808080", "size": 441, "opacity": 1},
          "encoding": {"shape": {"field": "d", "type": "nominal", "legend": null,
            "scale": {"domain": ["u", "d", "l", "r"], "range": ["M0,0L-0.65,2L0.65,2Z", "M0,0L-0.65,-2L0.65,-2Z", "M0,0L2,-0.65L2,0.65Z", "M0,0L-2,-0.65L-2,0.65Z"]}}}
        },
        {
          "data": {"name": "notes"},
          "transform": [{"filter": "datum.k == 'c'"}],
          "mark": {"type": "text", "align": "center", "baseline": "middle", "font": "Liberation Sans", "fontSize": 18, "color": "black"},
          "encoding": {"text": {"field": "t"}}
        },
        {
          "data": {"name": "notes"},
          "transform": [{"filter": "datum.k == 'l'"}],
          "mark": {"type": "text", "align": "left", "baseline": "middle", "font": "Liberation Sans", "fontSize": 18, "color": "black"},
          "encoding": {"text": {"field": "t"}}
        },
        {
          "data": {"name": "notes"},
          "transform": [{"filter": "datum.k == 'b'"}],
          "mark": {"type": "text", "align": "center", "baseline": "middle", "font": "Liberation Sans", "fontSize": 22, "fontWeight": "bold", "color": "black"},
          "encoding": {"text": {"field": "t"}}
        },
        {
          "data": {"name": "notes"},
          "transform": [{"filter": "datum.k == 'i'"}],
          "mark": {"type": "text", "align": "center", "baseline": "middle", "font": "Liberation Sans", "fontSize": 18, "color": "black", "angle": 323.3},
          "encoding": {"text": {"field": "t"}}
        },
        {
          "data": {"name": "notes"},
          "transform": [{"filter": "datum.k == 'g'"}],
          "mark": {"type": "text", "align": "center", "baseline": "middle", "font": "Liberation Sans", "fontSize": 18, "color": "black", "angle": 335.2},
          "encoding": {"text": {"field": "t"}}
        }
      ]
    },
    {
      "data": {"name": "cap"},
      "encoding": {
        "x": {"datum": 0, "type": "quantitative", "scale": {"domain": [0, 1]}, "axis": null},
        "y": {"field": "l", "type": "quantitative", "scale": {"domain": [0, 9], "range": [822, 1098], "nice": false, "zero": false}, "axis": null},
        "text": {"field": "t"}
      },
      "layer": [
        {
          "transform": [{"filter": "datum.p == 'b'"}],
          "mark": {"type": "text", "align": "left", "baseline": "middle", "font": "Liberation Serif", "fontSize": 24.5, "fontWeight": "bold", "color": "black", "dx": -88}
        },
        {
          "transform": [{"filter": "datum.p == 'a'"}],
          "mark": {"type": "text", "align": "left", "baseline": "middle", "font": "Liberation Serif", "fontSize": 27, "color": "black", "dx": 13}
        },
        {
          "transform": [{"filter": "datum.p == 'r'"}],
          "mark": {"type": "text", "align": "left", "baseline": "middle", "font": "Liberation Serif", "fontSize": 27, "color": "black", "dx": -88}
        }
      ]
    },
    {
      "data": {"values": [{}]},
      "layer": [
        {
          "mark": {"type": "rule", "color": "black", "strokeWidth": 2, "strokeCap": "square", "clip": false},
          "encoding": {
            "x": {"datum": 0, "type": "quantitative", "scale": {"domain": [0, 1], "range": [-103, 853], "nice": false, "zero": false}, "axis": null},
            "x2": {"datum": 1},
            "y": {"datum": 0, "type": "quantitative", "scale": {"domain": [0, 1], "range": [-84, 1117], "nice": false, "zero": false}, "axis": null}
          }
        },
        {
          "mark": {"type": "rule", "color": "black", "strokeWidth": 2, "strokeCap": "square", "clip": false},
          "encoding": {
            "x": {"datum": 0, "type": "quantitative", "scale": {"domain": [0, 1], "range": [-103, 853], "nice": false, "zero": false}, "axis": null},
            "x2": {"datum": 1},
            "y": {"datum": 1, "type": "quantitative", "scale": {"domain": [0, 1], "range": [-84, 1117], "nice": false, "zero": false}, "axis": null}
          }
        },
        {
          "mark": {"type": "rule", "color": "black", "strokeWidth": 2, "strokeCap": "square", "clip": false},
          "encoding": {
            "x": {"datum": 0, "type": "quantitative", "scale": {"domain": [0, 1], "range": [-103, 853], "nice": false, "zero": false}, "axis": null},
            "y": {"datum": 0, "type": "quantitative", "scale": {"domain": [0, 1], "range": [-84, 1117], "nice": false, "zero": false}, "axis": null},
            "y2": {"datum": 1}
          }
        },
        {
          "mark": {"type": "rule", "color": "black", "strokeWidth": 2, "strokeCap": "square", "clip": false},
          "encoding": {
            "x": {"datum": 1, "type": "quantitative", "scale": {"domain": [0, 1], "range": [-103, 853], "nice": false, "zero": false}, "axis": null},
            "y": {"datum": 0, "type": "quantitative", "scale": {"domain": [0, 1], "range": [-84, 1117], "nice": false, "zero": false}, "axis": null},
            "y2": {"datum": 1}
          }
        }
      ]
    }
  ]
}
